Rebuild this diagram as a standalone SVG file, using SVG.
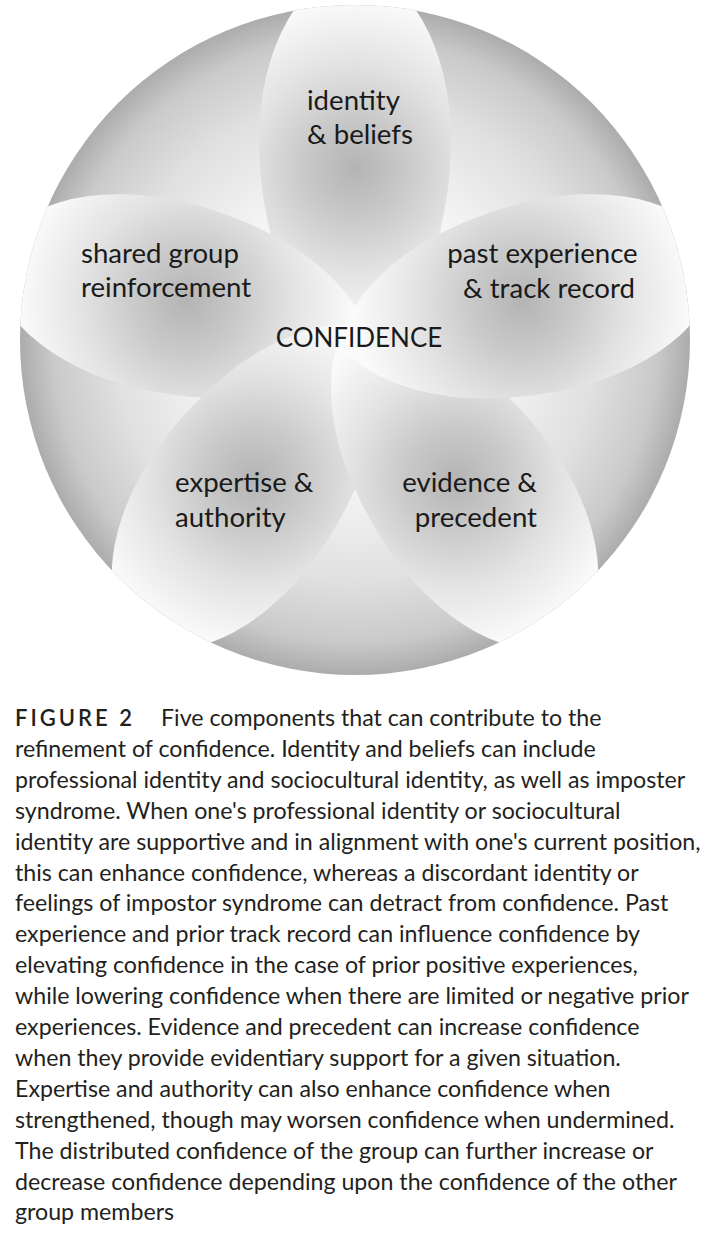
<svg xmlns="http://www.w3.org/2000/svg" xmlns:xlink="http://www.w3.org/1999/xlink" width="708" height="1236" viewBox="0 0 708 1236">
  <style>
    .lbl { font-family: Lato, "Open Sans", "Liberation Sans", sans-serif; font-size: 27.6px; fill: #1a1a1a; }
    .cap { font-family: Lato, "Liberation Sans", sans-serif; font-size: 23.2px; fill: #231f20; }
    .fig { font-family: Lato, "Liberation Sans", sans-serif; font-size: 22px; font-weight: 600; letter-spacing: 3px; fill: #231f20; }
  </style>
  <defs>
    <radialGradient id="bgGrad" gradientUnits="userSpaceOnUse" cx="355" cy="340" r="335">
      <stop offset="0" stop-color="#ffffff"/>
      <stop offset="0.45" stop-color="#f4f4f4"/>
      <stop offset="0.72" stop-color="#e0e0e0"/>
      <stop offset="0.9" stop-color="#cacaca"/>
      <stop offset="1" stop-color="#acacac"/>
    </radialGradient>
    <radialGradient id="petalGrad" gradientUnits="userSpaceOnUse" cx="0" cy="-172" r="170">
      <stop offset="0" stop-color="#b4b4b4"/>
      <stop offset="0.3" stop-color="#c9c9c9"/>
      <stop offset="0.62" stop-color="#e3e3e3"/>
      <stop offset="1" stop-color="#fbfbfb"/>
    </radialGradient>
    <clipPath id="circClip">
      <circle cx="355" cy="340" r="335"/>
    </clipPath>
    <path id="petal" d="M 0,15 C -30,5 -62,-35 -80,-90 C -92,-130 -96,-170 -96,-200 A 96 168 0 0 1 0,-368 A 96 168 0 0 1 96,-200 C 96,-170 92,-130 80,-90 C 62,-35 30,5 0,15 Z"/>
  </defs>

  <g id="background">
    <circle cx="355" cy="340" r="335" fill="url(#bgGrad)"/>
  </g>

  <g id="petals" clip-path="url(#circClip)">
    <g id="node-identity">
      <use xlink:href="#petal" href="#petal" transform="translate(355 340)" fill="url(#petalGrad)"/>
      <text class="lbl" x="307" y="110">identity</text>
      <text class="lbl" x="307" y="144">&amp; beliefs</text>
    </g>
    <g id="node-shared-group">
      <use xlink:href="#petal" href="#petal" transform="translate(355 340) rotate(283)" fill="url(#petalGrad)"/>
      <text class="lbl" x="81" y="263">shared group</text>
      <text class="lbl" x="81" y="297">reinforcement</text>
    </g>
    <g id="node-expertise">
      <use xlink:href="#petal" href="#petal" transform="translate(355 340) rotate(216)" fill="url(#petalGrad)"/>
      <text class="lbl" x="175" y="492">expertise &amp;</text>
      <text class="lbl" x="175" y="527">authority</text>
    </g>
    <g id="node-evidence">
      <use xlink:href="#petal" href="#petal" transform="translate(355 340) rotate(144)" fill="url(#petalGrad)"/>
      <text class="lbl" x="537" y="492" text-anchor="end">evidence &amp;</text>
      <text class="lbl" x="537" y="527" text-anchor="end">precedent</text>
    </g>
    <g id="node-past-experience">
      <use xlink:href="#petal" href="#petal" transform="translate(355 340) rotate(77)" fill="url(#petalGrad)"/>
      <text class="lbl" x="542.5" y="263" text-anchor="middle">past experience</text>
      <text class="lbl" x="549" y="298" text-anchor="middle">&amp; track record</text>
    </g>
  </g>

  <g id="node-confidence">
    <text class="lbl" x="359" y="347" text-anchor="middle" style="font-size:26px">CONFIDENCE</text>
  </g>

  <g id="connectors"></g>

  <g id="caption">
    <text class="fig" x="15" y="726">FIGURE 2</text>
    <text class="cap" x="161" y="726">Five components that can contribute to the</text>
    <text class="cap" x="15" y="756.9">refinement of confidence. Identity and beliefs can include</text>
    <text class="cap" x="15" y="787.8">professional identity and sociocultural identity, as well as imposter</text>
    <text class="cap" x="15" y="818.7">syndrome. When one's professional identity or sociocultural</text>
    <text class="cap" x="15" y="849.6">identity are supportive and in alignment with one's current position,</text>
    <text class="cap" x="15" y="880.5">this can enhance confidence, whereas a discordant identity or</text>
    <text class="cap" x="15" y="911.4">feelings of impostor syndrome can detract from confidence. Past</text>
    <text class="cap" x="15" y="942.3">experience and prior track record can influence confidence by</text>
    <text class="cap" x="15" y="973.2">elevating confidence in the case of prior positive experiences,</text>
    <text class="cap" x="15" y="1004.1">while lowering confidence when there are limited or negative prior</text>
    <text class="cap" x="15" y="1035">experiences. Evidence and precedent can increase confidence</text>
    <text class="cap" x="15" y="1065.9">when they provide evidentiary support for a given situation.</text>
    <text class="cap" x="15" y="1096.8">Expertise and authority can also enhance confidence when</text>
    <text class="cap" x="15" y="1127.7">strengthened, though may worsen confidence when undermined.</text>
    <text class="cap" x="15" y="1158.6">The distributed confidence of the group can further increase or</text>
    <text class="cap" x="15" y="1189.5">decrease confidence depending upon the confidence of the other</text>
    <text class="cap" x="15" y="1220.4">group members</text>
  </g>
</svg>
